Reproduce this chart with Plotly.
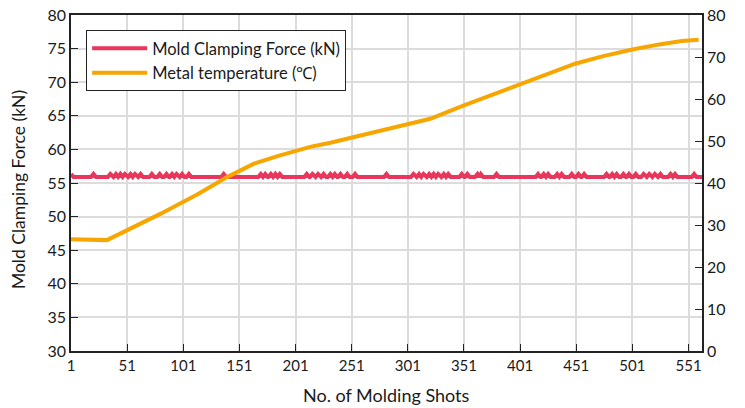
import plotly.graph_objects as go

# ---- data ----
shot_first = 1
shot_last = 563
force_base = 55.9
force_peak = 56.35
spike_shots = [1, 21, 36, 41, 45, 49, 54, 58, 63, 73, 80, 86, 91, 95, 100, 106,
               137, 170, 174, 179, 183, 187, 211, 216, 221, 226, 232, 236, 241,
               247, 254, 282, 306, 311, 315, 320, 324, 328, 333, 337, 349, 354,
               363, 366, 380, 417, 422, 426, 434, 438, 447, 453, 458, 478, 483,
               487, 493, 498, 504, 511, 516, 521, 526, 535, 539, 556]

temp_shots = [1, 33, 81, 115, 140, 164, 185, 214, 232, 251, 301, 321, 351, 401,
              428, 450, 475, 501, 525, 545, 560]
temp_values = [26.6, 26.4, 32.7, 37.5, 41.4, 44.6, 46.4, 48.6, 49.6, 50.8, 53.9,
               55.3, 58.5, 63.5, 66.4, 68.4, 70.2, 71.8, 73.0, 73.8, 74.1]

x_tick_vals = [1, 51, 101, 151, 201, 251, 301, 351, 401, 451, 501, 551]
y_left_ticks = [30, 35, 40, 45, 50, 55, 60, 65, 70, 75, 80]
y_right_ticks = [0, 10, 20, 30, 40, 50, 60, 70, 80]

# build force polyline from baseline + spikes (each spike a small bump)
half = 2.2
fx, fy = [], []
prev = None
for i, s in enumerate(spike_shots):
    left = s - half
    if prev is not None:
        left = max(left, (prev + s) / 2)
    if left >= shot_first and (not fx or fx[-1] < left):
        fx.append(left); fy.append(force_base)
    fx.append(s); fy.append(force_peak)
    right = s + half
    if i + 1 < len(spike_shots):
        right = min(right, (s + spike_shots[i + 1]) / 2)
    fx.append(right); fy.append(force_base)
    prev = s
fx.append(shot_last); fy.append(force_base)

RED = "#e8365d"
ORANGE = "#f7a600"
FONT = "Lato"
GRID = "#dcdcdc"
AX = "#222222"

fig = go.Figure()
fig.add_trace(go.Scatter(x=fx, y=fy, mode="lines", name="Mold Clamping Force (kN)",
                         line=dict(color=RED, width=4), yaxis="y"))
fig.add_trace(go.Scatter(x=temp_shots, y=temp_values, mode="lines",
                         name="Metal temperature (\u2103)",
                         line=dict(color=ORANGE, width=4), yaxis="y2"))

fig.update_layout(
    width=745, height=408,
    margin=dict(l=71, r=43, t=15, b=57, autoexpand=False),
    paper_bgcolor="white", plot_bgcolor="white",
    font=dict(family=FONT, size=15, color="#1a1a1a"),
    showlegend=True,
    legend=dict(x=0.024, y=0.955, xanchor="left", yanchor="top",
                bgcolor="white", bordercolor=AX, borderwidth=1,
                font=dict(size=16.5, family=FONT), tracegroupgap=0,
                itemwidth=55),
    xaxis=dict(range=[shot_first, shot_last], tickvals=x_tick_vals,
               showgrid=True, gridcolor=GRID, gridwidth=1.5,
               showline=True, linecolor=AX, linewidth=1.5, mirror=True,
               ticks="inside", ticklen=7, tickcolor=AX,
               tickfont=dict(size=15), zeroline=False, automargin=False),
    yaxis=dict(range=[30, 80], tickvals=y_left_ticks,
               showgrid=True, gridcolor=GRID, gridwidth=1.5,
               showline=True, linecolor=AX, linewidth=1.5,
               ticks="inside", ticklen=7, tickcolor=AX,
               tickfont=dict(size=16), zeroline=False, automargin=False),
    yaxis2=dict(range=[0, 80], tickvals=y_right_ticks, overlaying="y", side="right",
                showgrid=False, showline=True, linecolor=AX, linewidth=1.5,
                ticks="inside", ticklen=7, tickcolor=AX,
                tickfont=dict(size=16), zeroline=False, automargin=False),
    annotations=[
        dict(text="No. of Molding Shots", xref="paper", yref="paper",
             x=0.5, y=-0.132, xanchor="center", yanchor="middle",
             showarrow=False, font=dict(size=18, family=FONT)),
        dict(text="Mold Clamping Force (kN)", xref="paper", yref="paper",
             x=-0.0835, y=0.48, xanchor="center", yanchor="middle", textangle=-90,
             showarrow=False, font=dict(size=17.5, family=FONT)),
    ],
)

fig.write_html("out.html")
